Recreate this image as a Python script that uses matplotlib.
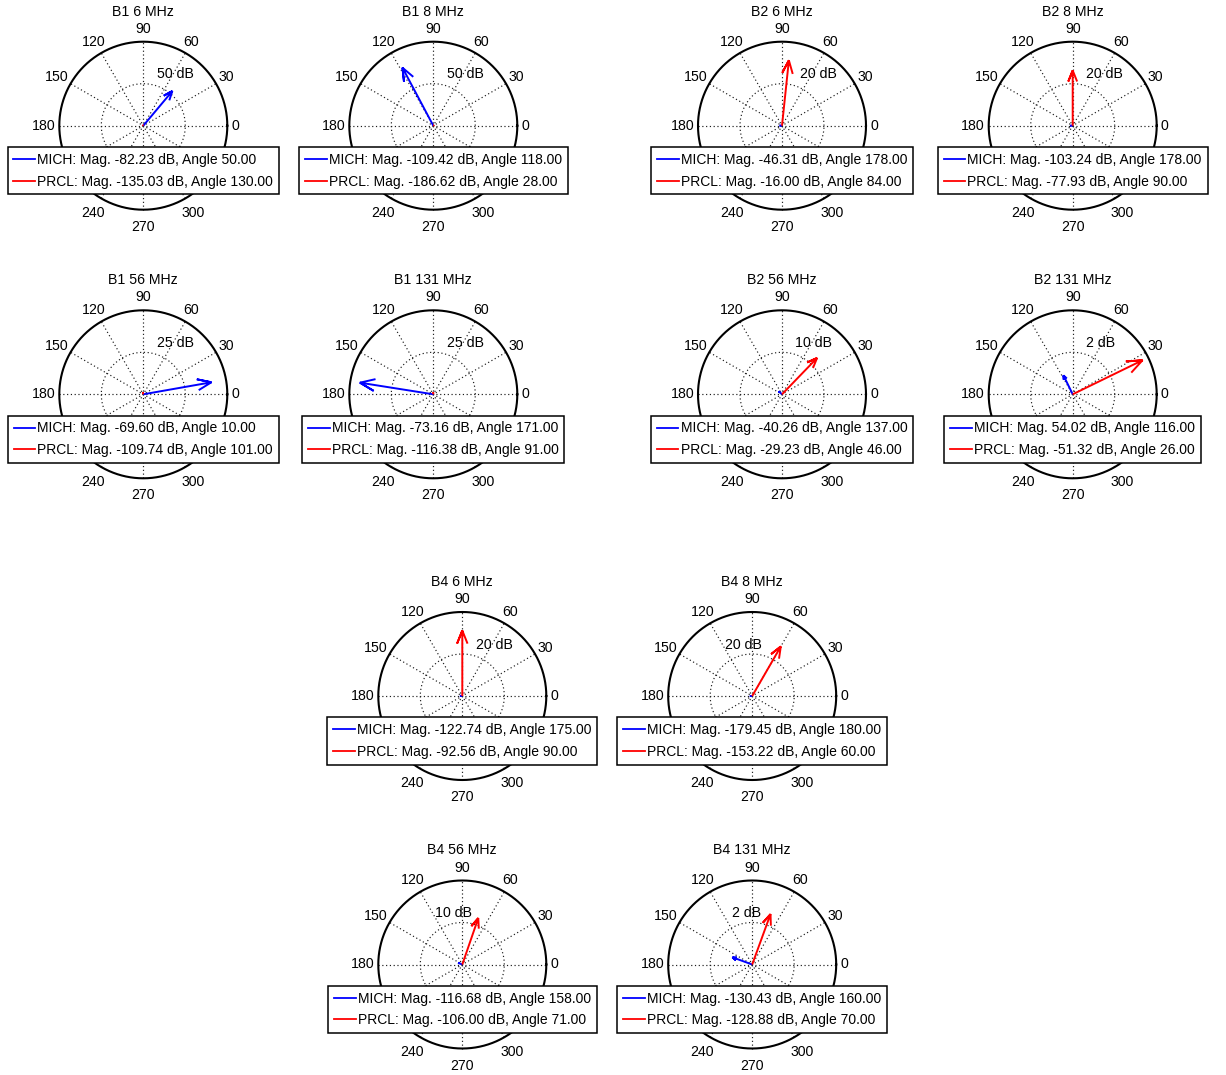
import numpy as np
import matplotlib
matplotlib.use("Agg")
import matplotlib.pyplot as plt
from matplotlib.lines import Line2D

plt.rcParams['font.family'] = ['Liberation Sans', 'DejaVu Sans']
plt.rcParams['font.size'] = 10.2

# ---- data -------------------------------------------------------------
titles = ["B1 6 MHz", "B1 8 MHz", "B2 6 MHz", "B2 8 MHz",
          "B1 56 MHz", "B1 131 MHz", "B2 56 MHz", "B2 131 MHz",
          "B4 6 MHz", "B4 8 MHz",
          "B4 56 MHz", "B4 131 MHz"]
mich_mag = [-82.23, -109.42, -46.31, -103.24,
            -69.60, -73.16, -40.26, 54.02,
            -122.74, -179.45,
            -116.68, -130.43]
mich_ang = [50, 118, 178, 178,
            10, 171, 137, 116,
            175, 180,
            158, 160]
prcl_mag = [-135.03, -186.62, -16.00, -77.93,
            -109.74, -116.38, -29.23, -51.32,
            -92.56, -153.22,
            -106.00, -128.88]
prcl_ang = [130, 28, 84, 90,
            101, 91, 46, 26,
            90, 60,
            71, 70]
ring_step = [50, 50, 20, 20,
             25, 25, 10, 2,
             20, 20,
             10, 2]
# 210 and 330 sit under the legend box, so they are left out
angle_ticks = [0, 30, 60, 90, 120, 150, 180, 240, 270, 300]

# ---- layout (pixels, origin top-left) ---------------------------------
FIG_W, FIG_H, DPI = 1226, 1075, 100
R_PX = 84.0
HALF_W, HALF_H = 142, 122
centers = [(143.3, 125.7), (433.3, 125.7), (782.0, 125.7), (1072.7, 125.7),
           (143.3, 394.3), (433.3, 394.3), (782.0, 394.3), (1072.7, 394.3),
           (462.3, 696.0), (752.2, 696.0),
           (462.3, 964.5), (752.2, 964.5)]

DOT = (0, (1, 2.2))
CHAR_PX = 7.8
FS = 10.2
LEG_FS = 10.0


def arrow_xy(length, ang_deg):
    """Compass-style arrow: shaft plus two barbs, as one polyline."""
    th = np.deg2rad(ang_deg)
    u = np.array([np.cos(th), np.sin(th)])
    p = np.array([-np.sin(th), np.cos(th)])
    tip = length * u
    b1 = 0.8 * length * u + 0.08 * length * p
    b2 = 0.8 * length * u - 0.08 * length * p
    pts = np.array([[0.0, 0.0], tip, b1, tip, b2])
    return pts[:, 0], pts[:, 1]


def hits(box, polys):
    x0, x1, y0, y1 = box
    for xs, ys in polys:
        for k in range(len(xs) - 1):
            t = np.linspace(0, 1, 40)
            px = xs[k] + (xs[k + 1] - xs[k]) * t
            py = ys[k] + (ys[k + 1] - ys[k]) * t
            if np.any((px >= x0) & (px <= x1) & (py >= y0) & (py <= y1)):
                return True
    return False


fig = plt.figure(figsize=(FIG_W / DPI, FIG_H / DPI), dpi=DPI)

for i, title in enumerate(titles):
    cx, cy = centers[i]
    ax = fig.add_axes([(cx - HALF_W) / FIG_W, 1 - (cy + HALF_H) / FIG_H,
                       2 * HALF_W / FIG_W, 2 * HALF_H / FIG_H])
    step = ring_step[i]
    rmax = 2 * step
    s = rmax / R_PX  # data units per pixel
    ax.set_xlim(-HALF_W * s, HALF_W * s)
    ax.set_ylim(-HALF_H * s, HALF_H * s)
    ax.axis('off')

    # grid: spokes, inner ring, outer circle
    t = np.linspace(0, 2 * np.pi, 361)
    for a in range(0, 180, 30):
        c, sn = np.cos(np.deg2rad(a)), np.sin(np.deg2rad(a))
        ax.plot([-rmax * c, rmax * c], [-rmax * sn, rmax * sn],
                color='0.1', lw=0.85, ls=DOT, zorder=1)
    ax.plot(step * np.cos(t), step * np.sin(t), color='0.1', lw=0.85,
            ls=DOT, zorder=1)
    ax.plot(rmax * np.cos(t), rmax * np.sin(t), color='k', lw=1.5, zorder=2)

    # angle labels
    for a in angle_ticks:
        c, sn = np.cos(np.deg2rad(a)), np.sin(np.deg2rad(a))
        lab = str(a)
        w = CHAR_PX * len(lab)
        hh = 9.0 if sn > 0.01 else (13.0 if sn < -0.01 else 0.0)
        ax.text((88 * c + w / 2 * c) * s, (88 * sn + hh * sn) * s, lab,
                ha='center', va='center', fontsize=FS, zorder=3,
                clip_on=False)

    # arrows: length in dB above the weakest coupling of the pair
    depth = np.abs([mich_mag[i], prcl_mag[i]])
    lengths = depth.max() - depth + 1
    polys = []
    for L, ang, col in zip(lengths, [mich_ang[i], prcl_ang[i]], ['b', 'r']):
        xs, ys = arrow_xy(L, ang)
        ax.plot(xs, ys, color=col, lw=1.4, zorder=4,
                solid_joinstyle='miter', solid_capstyle='butt')
        polys.append((xs, ys))

    # ring label, kept clear of the arrows
    lab = f"{step:g} dB"
    w = CHAR_PX * len(lab) * s
    yc = 0.61 * rmax
    hb = 0.083 * rmax
    m = 0.05 * rmax
    placed = False
    for x0 in (0.16 * rmax, 0.22 * rmax):
        if not hits((x0 - m, x0 + w + m, yc - hb - m, yc + hb + m), polys):
            ax.text(x0, yc, lab, ha='left', va='center', fontsize=FS,
                    zorder=3)
            placed = True
            break
    if not placed:
        ax.text(0.11 * rmax, yc, lab, ha='right', va='center', fontsize=FS,
                zorder=3)

    # title
    ax.text(0, 114 * s, title, ha='center', va='center', fontsize=FS,
            clip_on=False)

    # legend
    labels = [f"MICH: Mag. {mich_mag[i]:.2f} dB, Angle {mich_ang[i]:.2f}",
              f"PRCL: Mag. {prcl_mag[i]:.2f} dB, Angle {prcl_ang[i]:.2f}"]
    handles = [Line2D([], [], color='b', lw=1.3),
               Line2D([], [], color='r', lw=1.3)]
    leg = ax.legend(handles, labels, loc='center',
                    bbox_to_anchor=(0, -45.0 * s), bbox_transform=ax.transData,
                    fontsize=LEG_FS, handlelength=1.56, handletextpad=0.15,
                    borderpad=0.42, labelspacing=0.55, fancybox=False,
                    edgecolor='k', framealpha=1, borderaxespad=0)
    leg.get_frame().set_linewidth(1.1)
    leg.set_zorder(6)

fig.savefig("out.png", dpi=DPI, facecolor='white')
